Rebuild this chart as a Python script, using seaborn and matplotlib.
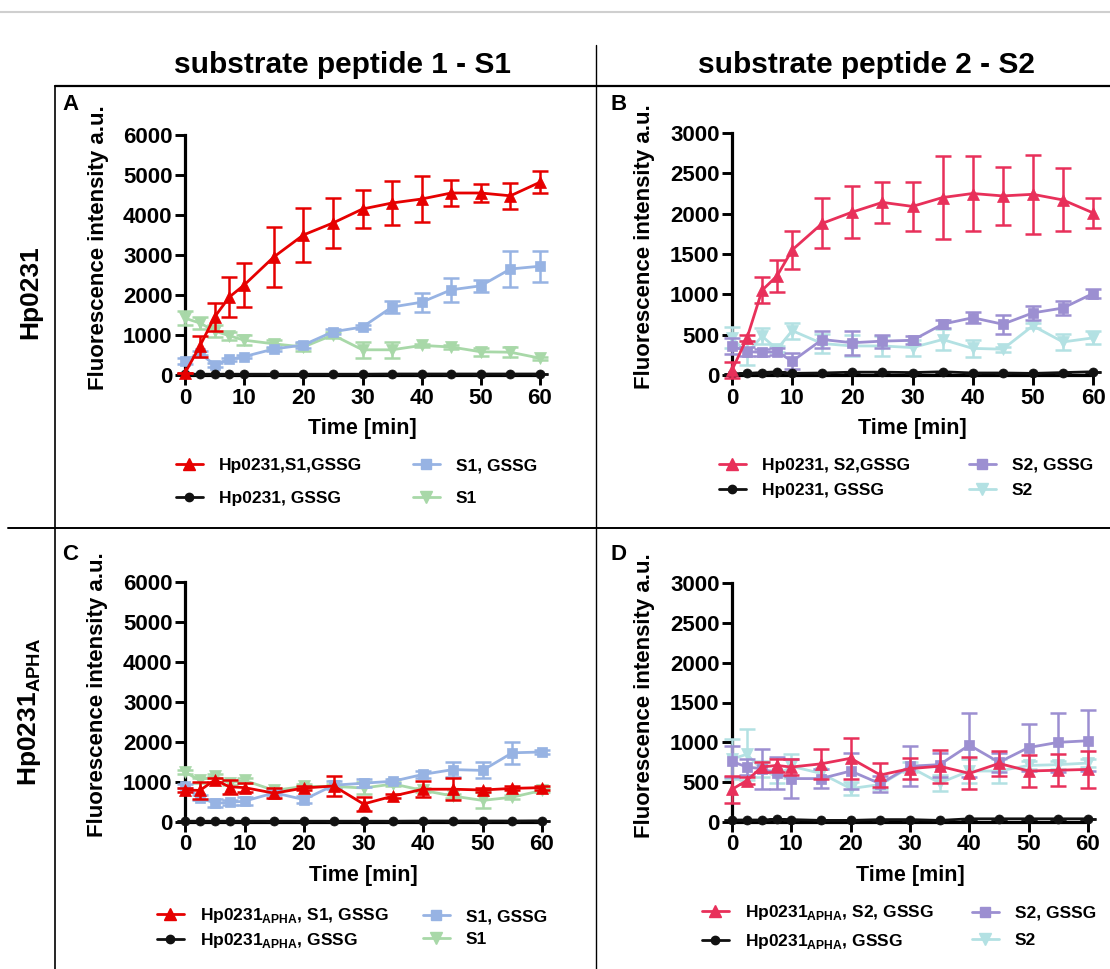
import matplotlib
matplotlib.use("Agg")
import matplotlib.pyplot as plt
from matplotlib.lines import Line2D
import seaborn as sns
import pandas as pd

# ---------------- data ----------------
time = [0, 2.5, 5, 7.5, 10, 15, 20, 25, 30, 35, 40, 45, 50, 55, 60]

# Panel A (Hp0231, S1)
a_red = [50, 720, 1450, 1950, 2250, 2950, 3500, 3800, 4150, 4300, 4400, 4550, 4550, 4480, 4820]
a_red_err = [0, 260, 350, 500, 550, 750, 680, 620, 480, 540, 570, 330, 230, 320, 280]
a_blue = [350, 550, 250, 390, 460, 650, 750, 1080, 1200, 1700, 1820, 2130, 2230, 2650, 2720]
a_blue_err = [80, 60, 60, 40, 40, 60, 80, 60, 60, 150, 240, 300, 150, 450, 390]
a_green = [1420, 1300, 1100, 980, 870, 780, 700, 1000, 630, 630, 740, 700, 580, 570, 420]
a_green_err = [170, 150, 150, 100, 130, 100, 100, 80, 200, 200, 40, 40, 100, 120, 40]
a_black = [20, 20, 20, 20, 20, 20, 20, 20, 20, 25, 25, 25, 25, 25, 25]

# Panel B (Hp0231, S2)
b_red = [60, 460, 1050, 1230, 1550, 1880, 2020, 2140, 2090, 2200, 2250, 2220, 2240, 2170, 2010]
b_red_err = [100, 40, 160, 200, 240, 310, 320, 250, 300, 510, 470, 360, 490, 390, 185]
b_purple = [360, 290, 280, 290, 170, 440, 400, 420, 430, 630, 710, 630, 770, 830, 1010]
b_purple_err = [100, 60, 40, 40, 100, 100, 150, 80, 50, 50, 70, 120, 90, 90, 50]
b_cyan = [460, 270, 480, 320, 550, 390, 360, 360, 340, 440, 330, 320, 610, 410, 460]
b_cyan_err = [130, 150, 100, 40, 100, 120, 130, 120, 100, 130, 110, 30, 30, 100, 80]
b_black = [15, 20, 30, 40, 20, 25, 35, 35, 30, 40, 25, 25, 20, 30, 40]

# Panel C (Hp0231 APHA, S1)
c_red = [800, 790, 1050, 880, 860, 720, 850, 900, 450, 650, 820, 820, 800, 840, 860]
c_red_err = [50, 220, 60, 180, 120, 130, 50, 250, 180, 50, 200, 270, 50, 50, 50]
c_blue = [900, 610, 470, 490, 520, 730, 560, 920, 970, 1020, 1190, 1310, 1290, 1730, 1750]
c_blue_err = [60, 60, 100, 60, 100, 60, 80, 100, 100, 50, 80, 180, 200, 280, 50]
c_green = [1250, 1040, 1160, 980, 1040, 790, 890, 890, 850, 950, 790, 650, 540, 620, 790]
c_green_err = [50, 60, 50, 50, 60, 50, 50, 50, 150, 50, 50, 50, 200, 50, 50]
c_black = [20, 20, 20, 20, 20, 20, 20, 20, 20, 20, 25, 25, 25, 25, 30]

# Panel D (Hp0231 APHA, S2)
d_red = [410, 520, 690, 710, 690, 730, 800, 590, 670, 700, 610, 735, 640, 650, 660]
d_red_err = [170, 40, 60, 80, 100, 190, 260, 150, 130, 210, 200, 160, 200, 200, 230]
d_purple = [760, 690, 670, 610, 545, 545, 640, 480, 700, 720, 965, 750, 935, 1000, 1020]
d_purple_err = [200, 100, 250, 200, 250, 120, 230, 100, 250, 150, 400, 120, 300, 370, 380]
d_cyan = [790, 850, 660, 570, 700, 610, 420, 470, 690, 490, 640, 640, 710, 720, 740]
d_cyan_err = [250, 320, 100, 80, 150, 60, 80, 60, 60, 100, 150, 150, 50, 50, 50]
d_black = [25, 25, 25, 35, 30, 20, 20, 30, 30, 20, 40, 40, 40, 40, 40]

x_ticks = [0, 10, 20, 30, 40, 50, 60]
y_ticks_s1 = [0, 1000, 2000, 3000, 4000, 5000, 6000]
y_ticks_s2 = [0, 500, 1000, 1500, 2000, 2500, 3000]

col_titles = ["substrate peptide 1 - S1", "substrate peptide 2 - S2"]
panel_letters = ["A", "B", "C", "D"]
x_label = "Time [min]"
y_label = "Fluorescence intensity a.u."

# ---------------- style ----------------
sns.set_style("ticks")
plt.rcParams["font.family"] = ["Liberation Sans", "DejaVu Sans"]
plt.rcParams["mathtext.fontset"] = "custom"
plt.rcParams["mathtext.rm"] = "Liberation Sans"
plt.rcParams["mathtext.bf"] = "Liberation Sans:bold"
plt.rcParams["text.color"] = "black"
plt.rcParams["axes.labelcolor"] = "black"
plt.rcParams["xtick.color"] = "black"
plt.rcParams["ytick.color"] = "black"

RED1 = "#E60000"
BLUE1 = "#97B3E3"
GREEN1 = "#A8D8A8"
RED2 = "#E8305A"
PURPLE2 = "#9C8FD1"
CYAN2 = "#B3E1E3"
BLACK = "#111111"

W, H = 1110, 969
fig = plt.figure(figsize=(W / 100, H / 100), dpi=100)


def fx(px):
    return px / W


def fy(py):
    return 1 - py / H


def box(l, t, r, b):
    return [fx(l), fy(b), fx(r) - fx(l), fy(t) - fy(b)]


MS = {"^": 9, "s": 7.5, "v": 9, "o": 6.5}


def draw_series(ax, y, err, color, marker, z):
    ax.errorbar(time, y, yerr=err, fmt="none", ecolor=color, elinewidth=1.8,
                capsize=5.5, capthick=1.8, zorder=z, clip_on=False)
    df = pd.DataFrame({"t": time, "v": y})
    sns.lineplot(data=df, x="t", y="v", ax=ax, color=color, marker=marker,
                 markersize=MS[marker], markeredgecolor=color, markeredgewidth=0.5,
                 linewidth=2.0, zorder=z + 0.5, clip_on=False, estimator=None)


def style_axes(ax, ymax, yticks, ylab_x):
    ax.set_xlim(0, 60)
    ax.set_ylim(0, ymax)
    ax.set_xticks(x_ticks)
    ax.set_yticks(yticks)
    for s in ["top", "right"]:
        ax.spines[s].set_visible(False)
    for s in ["left", "bottom"]:
        ax.spines[s].set_linewidth(2.3)
        ax.spines[s].set_color("black")
    ax.tick_params(axis="both", direction="out", length=7, width=2.1,
                   labelsize=16, pad=2, colors="black")
    for lab in ax.get_xticklabels() + ax.get_yticklabels():
        lab.set_fontweight("bold")
    ax.set_xlabel(x_label, fontsize=15.5, fontweight="bold", labelpad=7)
    ax.set_ylabel(y_label, fontsize=16, fontweight="bold")
    ax.yaxis.set_label_coords(ylab_x, 0.53)
    ax.set_facecolor("white")


panels = [
    dict(box=box(185, 135, 540, 375), ymax=6000, yt=y_ticks_s1, ylx=-0.215,
         series=[(a_green, a_green_err, GREEN1, "v", 3),
                 (a_blue, a_blue_err, BLUE1, "s", 4),
                 (a_black, None, BLACK, "o", 5),
                 (a_red, a_red_err, RED1, "^", 6)]),
    dict(box=box(732, 133, 1093, 375), ymax=3000, yt=y_ticks_s2, ylx=-0.212,
         series=[(b_cyan, b_cyan_err, CYAN2, "v", 3),
                 (b_purple, b_purple_err, PURPLE2, "s", 4),
                 (b_black, None, BLACK, "o", 5),
                 (b_red, b_red_err, RED2, "^", 6)]),
    dict(box=box(185, 582, 542, 822), ymax=6000, yt=y_ticks_s1, ylx=-0.215,
         series=[(c_green, c_green_err, GREEN1, "v", 3),
                 (c_blue, c_blue_err, BLUE1, "s", 4),
                 (c_black, None, BLACK, "o", 5),
                 (c_red, c_red_err, RED1, "^", 6)]),
    dict(box=box(732, 583, 1088, 822), ymax=3000, yt=y_ticks_s2, ylx=-0.215,
         series=[(d_cyan, d_cyan_err, CYAN2, "v", 3),
                 (d_purple, d_purple_err, PURPLE2, "s", 4),
                 (d_black, None, BLACK, "o", 5),
                 (d_red, d_red_err, RED2, "^", 6)]),
]

for p in panels:
    ax = fig.add_axes(p["box"])
    for y, err, c, m, z in p["series"]:
        if err is None:
            err = [0] * len(y)
        draw_series(ax, y, err, c, m, z)
    style_axes(ax, p["ymax"], p["yt"], p["ylx"])


# ---------------- legends ----------------
def handle(color, marker):
    return Line2D([], [], color=color, marker=marker, markersize=MS[marker] - 0.5,
                  markeredgecolor=color, linewidth=2.0)


LFS = 12.5
legend_specs = [
    # (col x px, center y px, labelspacing, handles/labels)
    (176, 482, 1.0, [(RED1, "^", "Hp0231,S1,GSSG"), (BLACK, "o", "Hp0231, GSSG")]),
    (413, 482, 1.0, [(BLUE1, "s", "S1, GSSG"), (GREEN1, "v", "S1")]),
    (719, 478, 0.6, [(RED2, "^", "Hp0231, S2,GSSG"), (BLACK, "o", "Hp0231, GSSG")]),
    (969, 478, 0.6, [(PURPLE2, "s", "S2, GSSG"), (CYAN2, "v", "S2")]),
    (157, 928, 0.3, [(RED1, "^", r"Hp0231$_{\mathbf{APHA}}$, S1, GSSG"),
                     (BLACK, "o", r"Hp0231$_{\mathbf{APHA}}$, GSSG")]),
    (423, 928, 0.45, [(BLUE1, "s", "S1, GSSG"), (GREEN1, "v", "S1")]),
    (702, 927, 0.6, [(RED2, "^", r"Hp0231$_{\mathbf{APHA}}$, S2, GSSG"),
                     (BLACK, "o", r"Hp0231$_{\mathbf{APHA}}$, GSSG")]),
    (972, 927, 0.7, [(PURPLE2, "s", "S2, GSSG"), (CYAN2, "v", "S2")]),
]
for x0, yc, ls, items in legend_specs:
    hs = [handle(c, m) for c, m, _ in items]
    ls_ = [t for _, _, t in items]
    fig.legend(hs, ls_, loc="center left", bbox_to_anchor=(fx(x0), fy(yc)),
               bbox_transform=fig.transFigure, frameon=False, borderpad=0,
               borderaxespad=0, handlelength=1.55, handletextpad=0.9,
               labelspacing=ls, labelcolor="black",
               prop={"size": LFS, "weight": "bold"})

# ---------------- frame lines & texts ----------------
def fline(x0, y0, x1, y1, color="black", lw=1.2):
    fig.add_artist(Line2D([fx(x0), fx(x1)], [fy(y0), fy(y1)], color=color,
                          linewidth=lw, transform=fig.transFigure))


fline(0, 12, W, 12, color="#cfcfcf", lw=1.5)
fline(596, 45, 596, H, lw=1.0)
fline(55, 86, W, 86, lw=1.6)
fline(55, 86, 55, H, lw=1.2)
fline(8, 528, W, 528, lw=1.4)

fig.text(fx(342), fy(65), col_titles[0], fontsize=21.5, fontweight="bold",
         ha="center", va="center")
fig.text(fx(867), fy(65), col_titles[1], fontsize=21.5, fontweight="bold",
         ha="center", va="center")

for letter, (lx, ly) in zip(panel_letters, [(62, 104), (610, 104), (62, 554), (610, 554)]):
    fig.text(fx(lx), fy(ly), letter, fontsize=16, fontweight="bold",
             ha="left", va="center")

fig.text(fx(30), fy(292), "Hp0231", fontsize=19, fontweight="bold",
         rotation=90, ha="center", va="center")
fig.text(fx(30), fy(712), r"Hp0231$_{\mathbf{APHA}}$", fontsize=19,
         fontweight="bold", rotation=90, ha="center", va="center")

fig.savefig("out.png", dpi=100, facecolor="white")
